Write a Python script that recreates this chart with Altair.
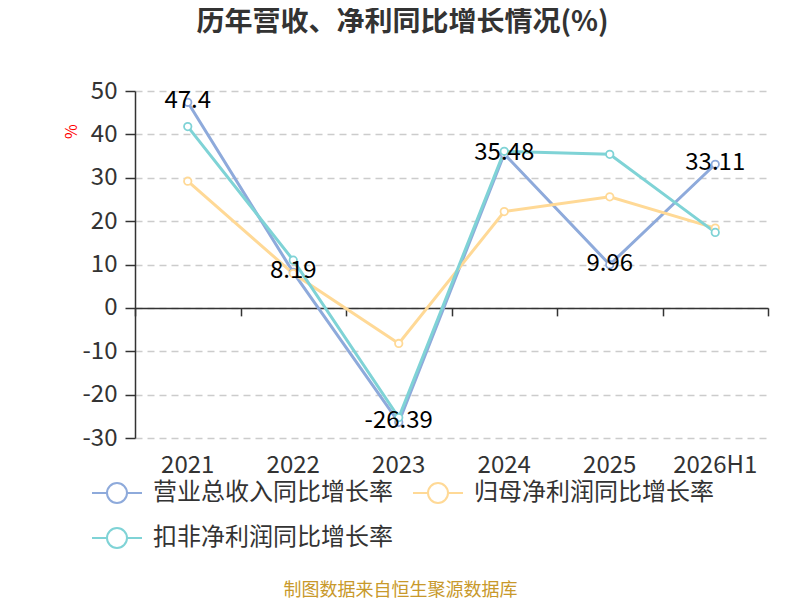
import altair as alt
import pandas as pd

years = ["2021", "2022", "2023", "2024", "2025", "2026H1"]
revenue_growth = [47.4, 8.19, -26.39, 35.48, 9.96, 33.11]
parent_np_growth = [29.2, 7.9, -8.2, 22.2, 25.6, 18.4]
deducted_np_growth = [41.8, 11.0, -25.3, 36.1, 35.4, 17.4]
series_names = ["营业总收入同比增长率", "归母净利润同比增长率", "扣非净利润同比增长率"]
series_colors = ["#8eaadb", "#ffd996", "#7fd3d6"]

FONT = "Noto Sans CJK SC"
W, H = 633, 347
Y_MIN, Y_MAX = -30, 50

rows = []
for si, (name, vals) in enumerate(zip(series_names, [revenue_growth, parent_np_growth, deducted_np_growth])):
    for y, v in zip(years, vals):
        rows.append({"year": y, "series": name, "value": v, "order": si})
df = pd.DataFrame(rows)
label_df = pd.DataFrame({"year": years, "value": revenue_growth,
                         "label": [f"{v:g}" for v in revenue_growth]})

zero_offset = -H * (0 - Y_MIN) / (Y_MAX - Y_MIN)

x_line = alt.X("year:N", sort=years, scale=alt.Scale(paddingInner=0, paddingOuter=0),
               axis=alt.Axis(orient="bottom", labels=False, domain=True, domainColor="#333333",
                             domainWidth=1.5, ticks=True, tickBand="extent", tickSize=8,
                             tickColor="#333333", tickWidth=1.5, offset=zero_offset,
                             grid=False, title=None))
y_scale = alt.Scale(domain=[Y_MIN, Y_MAX], nice=False, zero=False)
y_enc = alt.Y("value:Q", scale=y_scale,
              axis=alt.Axis(orient="left", values=list(range(Y_MIN, Y_MAX + 1, 10)), grid=True,
                            gridColor="#cccccc", gridDash=[7, 5], gridWidth=1.5,
                            domain=True, domainColor="#333333", domainWidth=1.5,
                            ticks=True, tickSize=10, tickColor="#333333", tickWidth=1.5,
                            labelFontSize=24, labelColor="#333333", labelPadding=8,
                            labelFont=FONT, labelExpr="datum.value + ''",
                            title="%", titleColor="#ff0000", titleFontSize=16,
                            titleFontWeight="normal", titleAngle=-90, titleX=-56, titleY=40,
                            titleFont=FONT))

symbol_path = "M-2.5,0L-1,0M1,0L2.5,0M-1,0A1,1,0,1,1,1,0A1,1,0,1,1,-1,0Z"

lines = alt.Chart(df).mark_line(
    strokeWidth=3,
    point=alt.OverlayMarkDef(filled=False, fill="white", size=55, strokeWidth=1.8),
).encode(
    x=x_line,
    y=y_enc,
    color=alt.Color("series:N", sort=series_names,
                    scale=alt.Scale(domain=series_names, range=series_colors),
                    legend=alt.Legend(title=None, orient="none", legendX=-30, legendY=390,
                                      columns=2, direction="horizontal",
                                      symbolType=symbol_path, symbolSize=400,
                                      symbolStrokeWidth=2, symbolFillColor="white",
                                      labelFontSize=24, labelColor="#333333", labelFont=FONT,
                                      labelOffset=24, columnPadding=16, rowPadding=17,
                                      labelLimit=400)),
    order="order:Q",
)

x_lab = alt.X("year:N", sort=years, scale=alt.Scale(paddingInner=0, paddingOuter=0),
              axis=alt.Axis(orient="bottom", domain=False, ticks=False, grid=False,
                            labelFontSize=24, labelColor="#333333", labelPadding=27,
                            labelBaseline="middle", labelAngle=0, labelFont=FONT,
                            title="制图数据来自恒生聚源数据库", titleColor="#c8992b",
                            titleFontSize=18, titleFontWeight="normal", titleFont=FONT,
                            titleX=265, titleY=152, titleBaseline="middle",
                            titleAnchor="start", titleAlign="center"))

labels = alt.Chart(label_df).mark_text(
    fontSize=24, color="#000000", font=FONT, baseline="middle", dy=-1
).encode(
    x=x_lab,
    y=alt.Y("value:Q", scale=y_scale, axis=None),
    text="label:N",
)

chart = alt.layer(lines, labels).resolve_axis(x="independent", y="independent").properties(
    width=W, height=H,
    autosize=alt.AutoSizeParams(type="none"),
    padding={"left": 127, "top": 83, "right": 16, "bottom": 162},
    title=alt.TitleParams("历年营收、净利同比增长情况(%)", fontSize=28, fontWeight="bold",
                          color="#333333", font=FONT, anchor="middle", frame="group",
                          dx=-49, offset=42),
).configure_view(stroke=None)

chart.save("out.html", embed_options={"renderer": "svg", "actions": False})
